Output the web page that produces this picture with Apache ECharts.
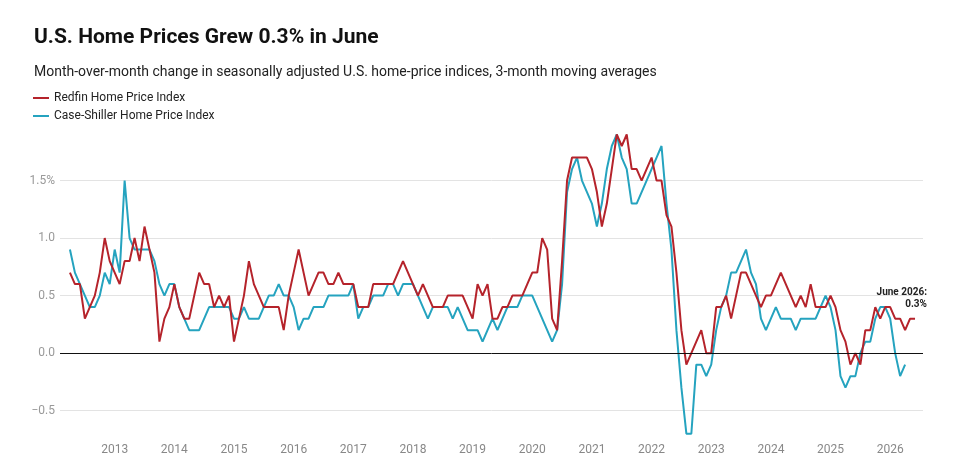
<!DOCTYPE html>
<html>
<head>
<meta charset="utf-8">
<script src="https://cdn.jsdelivr.net/npm/echarts@6/dist/echarts.min.js"></script>
<style>
  html, body { margin: 0; padding: 0; background: #fff; }
  #chart { width: 974px; height: 472px; }
</style>
</head>
<body>
<div id="chart"></div>
<script>
// monthly values, April 2012 (index 0) through June 2026
const redfin = [
  0.7,0.6,0.6,0.3,0.4,0.5,0.7,1.0,0.8,0.7,
  0.6,0.8,0.8,1.0,0.8,1.1,0.9,0.7,0.1,0.3,
  0.4,0.6,0.4,0.3,0.3,0.5,0.7,0.6,0.6,0.4,
  0.5,0.4,0.5,0.1,0.3,0.5,0.8,0.6,0.5,0.4,
  0.4,0.4,0.4,0.2,0.5,0.7,0.9,0.7,0.5,0.6,
  0.7,0.7,0.6,0.6,0.7,0.6,0.6,0.6,0.4,0.4,
  0.4,0.6,0.6,0.6,0.6,0.6,0.7,0.8,0.7,0.6,
  0.5,0.6,0.5,0.4,0.4,0.4,0.5,0.5,0.5,0.5,
  0.4,0.3,0.6,0.5,0.6,0.3,0.3,0.4,0.4,0.5,
  0.5,0.5,0.6,0.7,0.7,1.0,0.9,0.3,0.2,0.8,
  1.5,1.7,1.7,1.7,1.7,1.6,1.4,1.1,1.3,1.6,
  1.9,1.8,1.9,1.6,1.6,1.5,1.6,1.7,1.5,1.5,
  1.2,1.1,0.7,0.2,-0.1,0.0,0.1,0.2,0.0,0.0,
  0.4,0.4,0.5,0.3,0.5,0.7,0.7,0.6,0.5,0.4,
  0.5,0.5,0.6,0.7,0.6,0.5,0.4,0.5,0.4,0.6,
  0.4,0.4,0.4,0.5,0.4,0.2,0.1,-0.1,0.0,-0.1,
  0.2,0.2,0.4,0.3,0.4,0.4,0.3,0.3,0.2,0.3,0.3
];
const caseShiller = [
  0.9,0.7,0.6,0.5,0.4,0.4,0.5,0.7,0.6,0.9,
  0.7,1.5,1.0,0.9,0.9,0.9,0.9,0.8,0.6,0.5,
  0.6,0.6,0.4,0.3,0.2,0.2,0.2,0.3,0.4,0.4,
  0.4,0.4,0.4,0.3,0.3,0.4,0.3,0.3,0.3,0.4,
  0.5,0.5,0.6,0.5,0.5,0.4,0.2,0.3,0.3,0.4,
  0.4,0.4,0.5,0.5,0.5,0.5,0.5,0.6,0.3,0.4,
  0.4,0.5,0.5,0.5,0.6,0.6,0.5,0.6,0.6,0.6,
  0.5,0.4,0.3,0.4,0.4,0.4,0.4,0.3,0.4,0.3,
  0.2,0.2,0.2,0.1,0.2,0.3,0.2,0.3,0.4,0.4,
  0.4,0.5,0.5,0.5,0.4,0.3,0.2,0.1,0.2,0.6,
  1.4,1.6,1.7,1.5,1.4,1.3,1.1,1.3,1.6,1.8,
  1.9,1.7,1.6,1.3,1.3,1.4,1.5,1.6,1.7,1.8,
  1.3,0.9,0.2,-0.3,-0.7,-0.7,-0.1,-0.1,-0.2,-0.1,
  0.2,0.4,0.5,0.7,0.7,0.8,0.9,0.7,0.6,0.3,
  0.2,0.3,0.4,0.3,0.3,0.3,0.2,0.3,0.3,0.3,
  0.3,0.4,0.5,0.4,0.2,-0.2,-0.3,-0.2,-0.2,0.0,
  0.1,0.1,0.3,0.4,0.4,0.3,0.0,-0.2,-0.1
];
const years = ['2013','2014','2015','2016','2017','2018','2019','2020','2021','2022','2023','2024','2025','2026'];
const yearPos = years.map((y, k) => 9 + 12 * k); // January of each year
const yTicks = [-0.5, 0, 0.5, 1.0, 1.5];
const yTickLabels = ['−0.5', '0.0', '0.5', '1.0', '1.5%'];

const RED = '#b5232b';
const TEAL = '#25a3bf';
const font = 'Roboto';

const chart = echarts.init(document.getElementById('chart'));

chart.setOption({
  animation: false,
  textStyle: { fontFamily: font },
  title: [
    { text: 'U.S. Home Prices Grew 0.3% in June', left: 29, top: 22,
      textStyle: { fontSize: 21, fontWeight: 'bold', color: '#111', fontFamily: font } },
    { text: 'Month-over-month change in seasonally adjusted U.S. home-price indices, 3-month moving averages',
      left: 29, top: 60, textStyle: { fontSize: 14, fontWeight: 'normal', color: '#222', fontFamily: font } }
  ],
  legend: {
    orient: 'vertical', left: 28, top: 87, itemGap: 6, itemWidth: 16, itemHeight: 10,
    icon: 'path://M0,4h16v2h-16z',
    textStyle: { fontSize: 12, color: '#222', fontFamily: font },
    data: ['Redfin Home Price Index', 'Case-Shiller Home Price Index']
  },
  grid: { left: 60, right: 51, top: 123, bottom: 36 },
  xAxis: {
    type: 'value', min: -2, max: 171.6,
    axisLine: { show: false }, axisTick: { show: false }, splitLine: { show: false },
    axisLabel: {
      customValues: yearPos, color: '#888', fontSize: 12, margin: 8,
      formatter: v => years[yearPos.indexOf(v)] || ''
    }
  },
  yAxis: {
    type: 'value', min: -0.72, max: 2.0,
    axisLine: { show: false }, axisTick: { show: false }, splitLine: { show: false },
    axisLabel: {
      customValues: yTicks, color: '#999', fontSize: 12, margin: 5,
      formatter: v => yTickLabels[yTicks.indexOf(v)] || ''
    }
  },
  series: [
    {
      // gridlines only, drawn beneath the data
      name: 'grid', type: 'line', data: [], z: 0, silent: true,
      markLine: {
        silent: true, symbol: 'none', label: { show: false }, z: 0,
        lineStyle: { color: '#e3e3e3', width: 1, type: 'solid' },
        data: [-0.5, 0.5, 1.0, 1.5].map(v => ({ yAxis: v }))
      }
    },
    {
      name: 'Redfin Home Price Index', type: 'line', symbol: 'none', z: 3,
      color: RED, lineStyle: { width: 2, color: RED },
      data: redfin.map((v, i) => [i, v])
    },
    {
      name: 'Case-Shiller Home Price Index', type: 'line', symbol: 'none', z: 2,
      color: TEAL, lineStyle: { width: 2, color: TEAL },
      data: caseShiller.map((v, i) => [i, v]),
      markLine: {
        silent: true, symbol: 'none', label: { show: false }, z: 5,
        lineStyle: { color: '#111', width: 1, type: 'solid' },
        data: [{ yAxis: 0 }]
      }
    }
  ],
  graphic: [
    { type: 'text', x: 927, y: 286,
      style: { text: 'June 2026:\n0.3%', align: 'right', font: 'bold 10px Roboto', fill: '#222', lineHeight: 12 } }
  ]
});
</script>
</body>
</html>
